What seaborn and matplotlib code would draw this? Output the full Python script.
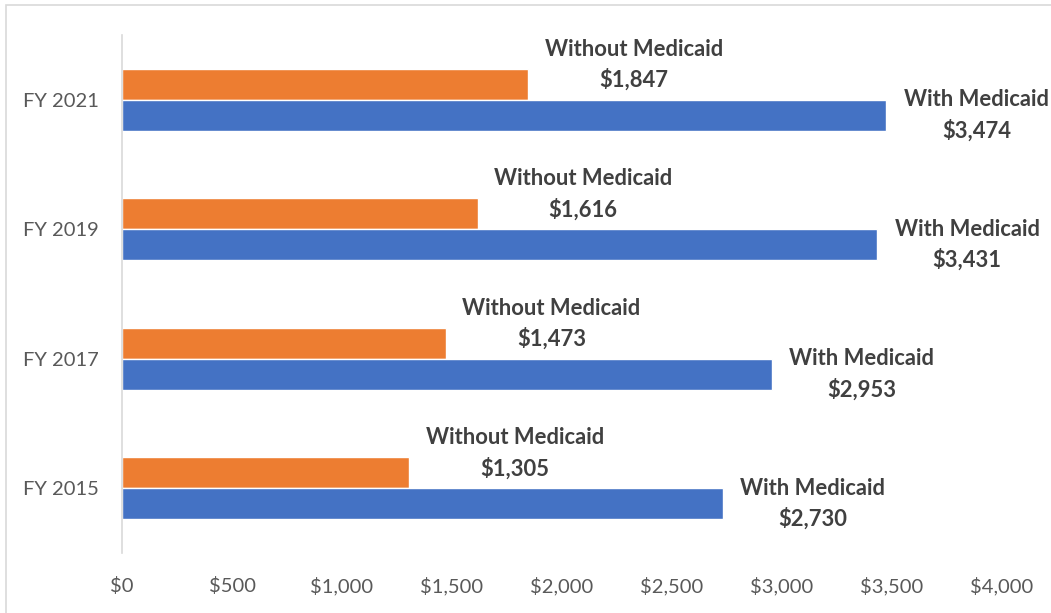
import matplotlib
matplotlib.use("Agg")
import matplotlib.pyplot as plt
import seaborn as sns
import pandas as pd
from matplotlib.patches import Rectangle
from matplotlib.ticker import FuncFormatter

categories = ["FY 2021", "FY 2019", "FY 2017", "FY 2015"]
without_medicaid = [1847, 1616, 1473, 1305]
with_medicaid = [3474, 3431, 2953, 2730]
series_names = ["Without Medicaid", "With Medicaid"]
x_ticks = [0, 500, 1000, 1500, 2000, 2500, 3000, 3500, 4000]

sns.set_theme(style="white")
plt.rcParams["font.family"] = ["Lato", "DejaVu Sans"]

df = pd.DataFrame({
    "year": categories * 2,
    "value": without_medicaid + with_medicaid,
    "series": [series_names[0]] * len(categories) + [series_names[1]] * len(categories),
})

W, H = 1051, 613
fig = plt.figure(figsize=(W / 100, H / 100), dpi=100)
ax = fig.add_axes([122 / W, 1 - 553 / H, (1002 - 122) / W, (553 - 35) / H])

sns.barplot(data=df, y="year", x="value", hue="series", order=categories,
            hue_order=series_names, palette=["#ED7D31", "#4472C4"],
            orient="h", width=0.48, ax=ax, legend=False, saturation=1)

ax.set_xlim(0, 4000)
ax.set_ylim(3.5, -0.5)
ax.set_xticks(x_ticks)
ax.xaxis.set_major_formatter(FuncFormatter(lambda v, p: f"${v:,.0f}"))
ax.set_xlabel("")
ax.set_ylabel("")
for s in ["top", "right", "bottom"]:
    ax.spines[s].set_visible(False)
ax.spines["left"].set_color("#D9D9D9")
ax.spines["left"].set_linewidth(1.2)
ax.tick_params(axis="both", length=0, labelsize=14.5, colors="#595959")
ax.tick_params(axis="x", pad=17)
ax.tick_params(axis="y", pad=17)

for i, cat in enumerate(categories):
    ax.annotate(f"{series_names[0]}\n${without_medicaid[i]:,}",
                xy=(without_medicaid[i], i - 0.12), xytext=(76, 14),
                textcoords="offset points", ha="center", va="center",
                fontsize=15.8, fontweight="bold", color="#404040", linespacing=1.5)
    ax.annotate(f"{series_names[1]}\n${with_medicaid[i]:,}",
                xy=(with_medicaid[i], i + 0.12), xytext=(65, 0),
                textcoords="offset points", ha="center", va="center",
                fontsize=15.8, fontweight="bold", color="#404040", linespacing=1.5,
                annotation_clip=False)

fig.patches.append(Rectangle((6 / W, -0.1), 1.2, 1 - 5 / H + 0.1, transform=fig.transFigure,
                             fill=False, edgecolor="#D9D9D9", linewidth=1.2))

fig.savefig("out.png", dpi=100)
